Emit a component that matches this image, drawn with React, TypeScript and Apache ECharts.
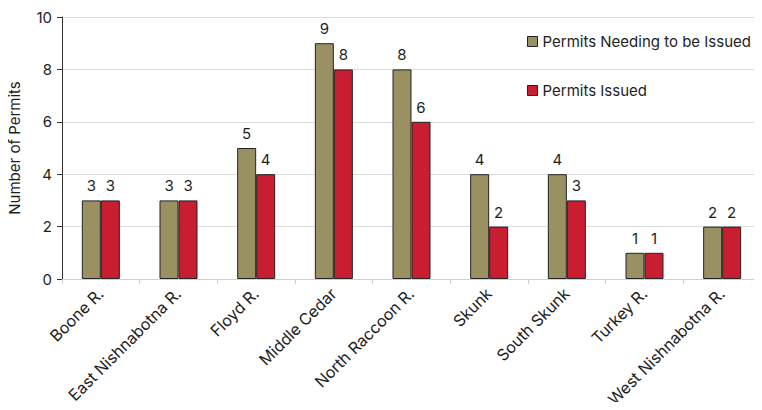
import React, { useEffect, useRef } from "react";
import * as echarts from "echarts";

const categories = [
  "Boone R.",
  "East Nishnabotna R.",
  "Floyd R.",
  "Middle Cedar",
  "North Raccoon R.",
  "Skunk",
  "South Skunk",
  "Turkey R.",
  "West Nishnabotna R.",
];
const permitsNeeded = [3, 3, 5, 9, 8, 4, 4, 1, 2];
const permitsIssued = [3, 3, 4, 8, 6, 2, 3, 1, 2];
const seriesNames = ["Permits Needing to be Issued", "Permits Issued"];
const yTicks = { min: 0, max: 10, interval: 2 };

const FONT = "Inter, Liberation Sans, Arial, sans-serif";
const OLIVE = "#9a9163";
const RED = "#c91e32";
const TEXT = "#1e1e1e";

export default function App() {
  const ref = useRef<HTMLDivElement>(null);

  useEffect(() => {
    if (!ref.current) return;
    const chart = echarts.init(ref.current, null, { renderer: "svg" });
    const barStyle = (color: string) => ({
      color,
      borderColor: "#222",
      borderWidth: 1,
    });
    const label = {
      show: true,
      position: "top" as const,
      distance: 7,
      color: TEXT,
      fontSize: 15,
      fontFamily: FONT,
    };
    chart.setOption({
      animation: false,
      backgroundColor: "#fff",
      textStyle: { fontFamily: FONT },
      grid: { left: 62, right: 1, top: 17, bottom: 131, outerBoundsMode: "none", containLabel: false },
      legend: {
        orient: "vertical",
        left: 527,
        top: 34,
        padding: 0,
        itemGap: 34,
        itemWidth: 10,
        itemHeight: 10,
        icon: "rect",
        textStyle: { fontSize: 15, color: TEXT, fontFamily: FONT },
        data: seriesNames.map((name, i) => ({
          name,
          itemStyle: { color: i === 0 ? OLIVE : RED, borderColor: "#222", borderWidth: 1 },
        })),
      },
      xAxis: {
        type: "category",
        data: categories,
        axisLine: { lineStyle: { color: "#d0d0d0" } },
        axisTick: { show: true, lineStyle: { color: "#d0d0d0" }, length: 5 },
        axisLabel: {
          rotate: 45,
          interval: 0,
          color: TEXT,
          fontSize: 16,
          fontFamily: FONT,
          margin: 12,
        },
      },
      yAxis: {
        type: "value",
        min: yTicks.min,
        max: yTicks.max,
        interval: yTicks.interval,
        name: "Number of Permits",
        nameLocation: "middle",
        nameGap: 40,
        nameTextStyle: { fontSize: 15, color: TEXT, fontFamily: FONT },
        axisLine: { show: true, lineStyle: { color: "#333" } },
        axisTick: { show: true, length: 5, lineStyle: { color: "#333" } },
        axisLabel: { color: TEXT, fontSize: 15, fontFamily: FONT, margin: 10 },
        splitLine: { lineStyle: { color: "#dcdcdc" } },
      },
      series: [
        {
          name: seriesNames[0],
          type: "bar",
          data: permitsNeeded,
          barWidth: 19,
          barGap: "0%",
          itemStyle: barStyle(OLIVE),
          label,
        },
        {
          name: seriesNames[1],
          type: "bar",
          data: permitsIssued,
          barWidth: 19,
          barGap: "0%",
          itemStyle: barStyle(RED),
          label,
        },
      ],
    });
    return () => chart.dispose();
  }, []);

  return <div ref={ref} style={{ width: 762, height: 410, margin: -8 }} />;
}
